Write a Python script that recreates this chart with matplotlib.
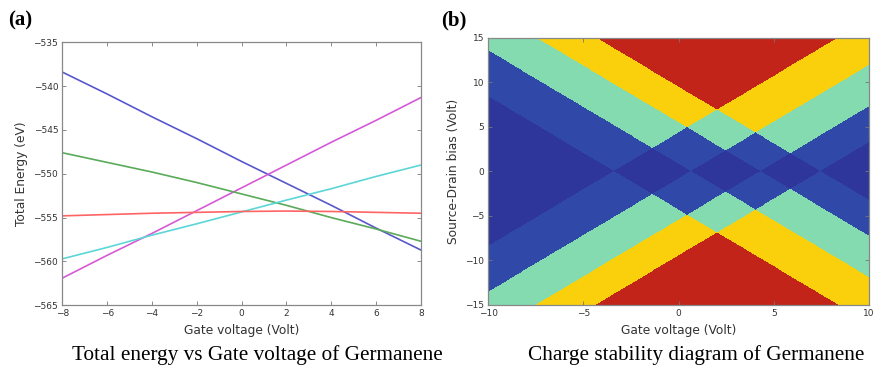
import numpy as np
import matplotlib
matplotlib.use('Agg')
import matplotlib.pyplot as plt
from matplotlib.colors import ListedColormap

# ---- panel (a): total energy of each charge state vs gate voltage
gate = [-8, -6, -4, -2, 0, 2, 4, 6, 8]
e_blue = [-538.4, -540.9, -543.5, -546.0, -548.6, -551.1, -553.6, -556.2, -558.7]
e_magenta = [-561.9, -559.3, -556.8, -554.2, -551.6, -549.0, -546.4, -543.9, -541.3]
e_green = [-547.6, -548.7, -549.8, -551.0, -552.3, -553.6, -555.0, -556.3, -557.7]
e_cyan = [-559.7, -558.4, -557.0, -555.7, -554.35, -553.0, -551.7, -550.3, -549.0]
e_red = [-554.8, -554.65, -554.5, -554.4, -554.3, -554.25, -554.3, -554.4, -554.5]

# ---- panel (b): charge stability diagram
# degeneracy points (gate voltage where each cone opens) and edge slope
apex_vg = [-3.4, 0.65, 4.3, 7.45]
edge_slope = 1.27
level_colors = ['#2e359b', '#3049a9', '#84dbb0', '#fad00c', '#c2241a']

txt = '#333333'
fig = plt.figure(figsize=(8.74, 3.68), dpi=100)

ax1 = fig.add_axes([0.0713, 0.1704, 0.4104, 0.7147])
ax1.plot(gate, e_blue, color='#5858cc', lw=1.2)
ax1.plot(gate, e_magenta, color='#d65ad6', lw=1.2)
ax1.plot(gate, e_green, color='#5aaa5a', lw=1.2)
ax1.plot(gate, e_cyan, color='#5cd6d6', lw=1.2)
ax1.plot(gate, e_red, color='#ff6464', lw=1.2)
ax1.set_xlim(-8, 8)
ax1.set_ylim(-565, -535)
ax1.set_xticks(np.arange(-8, 9, 2))
ax1.set_yticks(np.arange(-565, -534, 5))
ax1.set_xlabel('Gate voltage (Volt)', fontsize=8.8, color=txt, labelpad=4)
ax1.set_ylabel('Total Energy (eV)', fontsize=8.8, color=txt, labelpad=4)

ax2 = fig.add_axes([0.5587, 0.1712, 0.4356, 0.7264])
vg = np.linspace(-10, 10, 1000)
vsd = np.linspace(-15, 15, 800)
VG, VSD = np.meshgrid(vg, vsd)
count = np.zeros_like(VG)
for a in apex_vg:
    count += (np.abs(VSD) >= edge_slope * np.abs(VG - a))
ax2.imshow(count, origin='lower', extent=[-10, 10, -15, 15], aspect='auto',
           cmap=ListedColormap(level_colors), vmin=-0.5, vmax=4.5,
           interpolation='nearest')
ax2.set_xlim(-10, 10)
ax2.set_ylim(-15, 15)
ax2.set_xticks([-10, -5, 0, 5, 10])
ax2.set_yticks(np.arange(-15, 16, 5))
ax2.set_xlabel('Gate voltage (Volt)', fontsize=8.8, color=txt, labelpad=4)
ax2.set_ylabel('Source-Drain bias (Volt)', fontsize=8.8, color=txt, labelpad=4)

for ax in (ax1, ax2):
    ax.tick_params(direction='in', top=True, right=True, labelsize=6.5,
                   labelcolor=txt, color='#777777', length=3, width=0.6, pad=3)
    for s in ax.spines.values():
        s.set_color('#888888')
        s.set_linewidth(0.9)

fig.text(0.009, 0.945, '(a)', fontsize=15, fontweight='bold',
         family='Liberation Serif', va='center', ha='left')
fig.text(0.505, 0.945, '(b)', fontsize=15, fontweight='bold',
         family='Liberation Serif', va='center', ha='left')
fig.text(0.294, 0.035, 'Total energy vs Gate voltage of Germanene', fontsize=15.3,
         family='Liberation Serif', va='center', ha='center')
fig.text(0.797, 0.035, 'Charge stability diagram of Germanene', fontsize=15.3,
         family='Liberation Serif', va='center', ha='center')

fig.savefig('out.png', dpi=100)
